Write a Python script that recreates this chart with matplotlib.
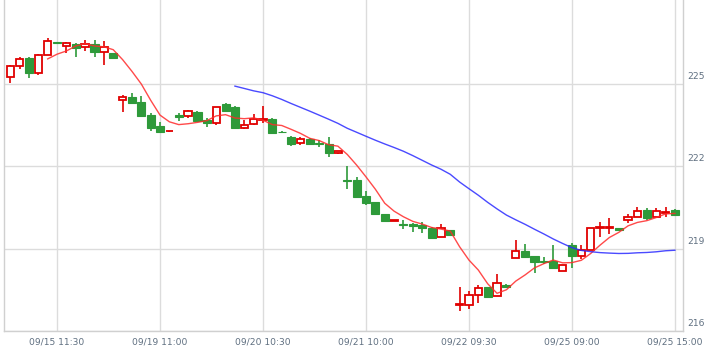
import numpy as np
import pandas as pd
import matplotlib
matplotlib.use("Agg")
import matplotlib.pyplot as plt
from matplotlib.transforms import ScaledTranslation

# ---------------- Daten ----------------
opens = [225.27, 225.65, 225.96, 225.42, 226.05, 226.54, 226.39, 226.47, 226.35, 226.47,
         226.16, 226.14, 224.41, 224.53, 224.35, 223.87, 223.47, 223.28, 223.87, 223.83,
         223.97, 223.68, 223.57, 224.28, 224.18, 223.39, 223.55, 223.71, 223.73, 223.27,
         223.07, 222.84, 223.00, 222.84, 222.82, 222.48, 221.50, 221.50, 220.92, 220.70,
         220.26, 220.02, 219.89, 219.91, 219.86, 219.77, 219.43, 219.67, 216.95, 216.96,
         217.33, 217.60, 217.26, 217.69, 218.68, 218.91, 218.72, 218.55, 218.54, 218.20,
         219.15, 218.74, 218.94, 219.77, 219.77, 219.75, 220.05, 220.14, 220.40, 220.15,
         220.31, 220.43]
highs = [225.71, 225.98, 226.00, 226.10, 226.68, 226.55, 226.55, 226.51, 226.60, 226.60,
         226.57, 226.14, 224.60, 224.68, 224.57, 223.94, 223.63, 223.31, 223.94, 224.07,
         224.02, 223.75, 224.16, 224.32, 224.21, 223.69, 223.91, 224.19, 223.78, 223.28,
         223.10, 223.06, 223.02, 222.96, 223.08, 222.57, 222.00, 221.62, 221.09, 220.72,
         220.27, 220.04, 220.05, 219.93, 219.98, 219.80, 219.92, 219.68, 217.60, 217.45,
         217.67, 217.62, 218.09, 217.70, 219.31, 219.19, 218.74, 218.70, 219.15, 218.40,
         219.20, 219.13, 219.77, 219.98, 220.12, 219.76, 220.25, 220.51, 220.47, 220.47,
         220.53, 220.44]
lows = [225.03, 225.54, 225.24, 225.33, 226.05, 226.50, 226.13, 225.98, 226.21, 226.00,
        225.69, 225.97, 223.97, 224.28, 223.81, 223.30, 223.26, 223.27, 223.67, 223.75,
        223.63, 223.45, 223.51, 224.03, 223.41, 223.35, 223.51, 223.58, 223.18, 223.24,
        222.74, 222.78, 222.81, 222.72, 222.33, 222.47, 221.16, 220.89, 220.59, 220.24,
        220.00, 220.01, 219.71, 219.61, 219.58, 219.35, 219.43, 219.50, 216.72, 216.79,
        217.03, 217.20, 217.26, 217.62, 218.68, 218.68, 218.11, 218.46, 218.28, 218.20,
        218.28, 218.62, 218.94, 219.43, 219.53, 219.67, 219.94, 220.14, 220.04, 220.15,
        220.15, 220.23]
closes = [225.66, 225.91, 225.42, 226.05, 226.57, 226.52, 226.50, 226.33, 226.46, 226.16,
          226.37, 225.97, 224.52, 224.32, 223.85, 223.41, 223.26, 223.30, 223.81, 224.01,
          223.66, 223.58, 224.16, 224.03, 223.41, 223.53, 223.73, 223.73, 223.23, 223.25,
          222.83, 222.99, 222.83, 222.82, 222.50, 222.56, 221.48, 220.89, 220.67, 220.25,
          220.01, 220.03, 219.87, 219.83, 219.76, 219.39, 219.74, 219.50, 216.97, 217.33,
          217.57, 217.24, 217.76, 217.62, 218.91, 218.70, 218.52, 218.53, 218.28, 218.40,
          218.74, 218.94, 219.77, 219.80, 219.80, 219.67, 220.14, 220.39, 220.12, 220.37,
          220.33, 220.23]

label_idx = [5, 16, 27, 38, 49, 60, 71]
x_labels = ["09/15 11:30", "09/19 11:00", "09/20 10:30", "09/21 10:00",
            "09/22 09:30", "09/25 09:00", "09/25 15:00"]
y_ticks = [216, 219, 222, 225]

# ---------------- Farben ----------------
UP = "#e00000"
DOWN = "#2e9a3a"
GRID = "#dcdcdc"
TXT = "#5f6f80"

df = pd.DataFrame({"open": opens, "high": highs, "low": lows, "close": closes})
x = np.arange(len(df))
ma5 = df["close"].rolling(5).mean()
ma25 = df["close"].rolling(25).mean()

fig = plt.figure(figsize=(7.23, 3.53), dpi=100)
ax = fig.add_axes([3.7 / 723, 22 / 353, (682.7 - 3.7) / 723, 331 / 353])

up = df["close"] >= df["open"]
body_lo = np.minimum(df["open"], df["close"])
body_h = np.maximum((df["close"] - df["open"]).abs(), 0.02)

# Dochte
ax.vlines(x[up], df["low"][up], df["high"][up], color=UP, lw=1.2, zorder=2)
ax.vlines(x[~up], df["low"][~up], df["high"][~up], color=DOWN, lw=1.2, zorder=2)

# Kerzenkörper
ax.bar(x[up], body_h[up], bottom=body_lo[up], width=0.78,
       facecolor="white", edgecolor=UP, lw=1.3, zorder=3)
ax.bar(x[~up], body_h[~up], bottom=body_lo[~up], width=0.86,
       facecolor=DOWN, edgecolor=DOWN, lw=0.8, zorder=3)

# gleitende Durchschnitte
ax.plot(x, ma5, color="#ff2a2a", lw=1.0, alpha=0.85, zorder=4)
ax.plot(x, ma25, color="#2a2aff", lw=1.0, alpha=0.85, zorder=4)

ax.set_xlim(-0.7, 71.83)
ax.set_ylim(216, 228.07)

ax.set_xticks(label_idx)
ax.set_xticklabels(x_labels)
ax.set_yticks(y_ticks)
ax.yaxis.tick_right()
ax.tick_params(axis="both", length=0, labelsize=6.6, colors=TXT)
ax.tick_params(axis="x", pad=5)
ax.tick_params(axis="y", pad=3)
shift = ScaledTranslation(0, 3 / 100, fig.dpi_scale_trans)
for lab in ax.get_yticklabels():
    lab.set_verticalalignment("bottom")
    lab.set_transform(lab.get_transform() + shift)

ax.grid(True, color=GRID, lw=1.0, zorder=0)
ax.set_axisbelow(True)
for s in ["left", "bottom", "right"]:
    ax.spines[s].set_color("#d0d0d0")
    ax.spines[s].set_linewidth(1.0)
ax.spines["top"].set_visible(False)

fig.savefig("out.png", dpi=100)
